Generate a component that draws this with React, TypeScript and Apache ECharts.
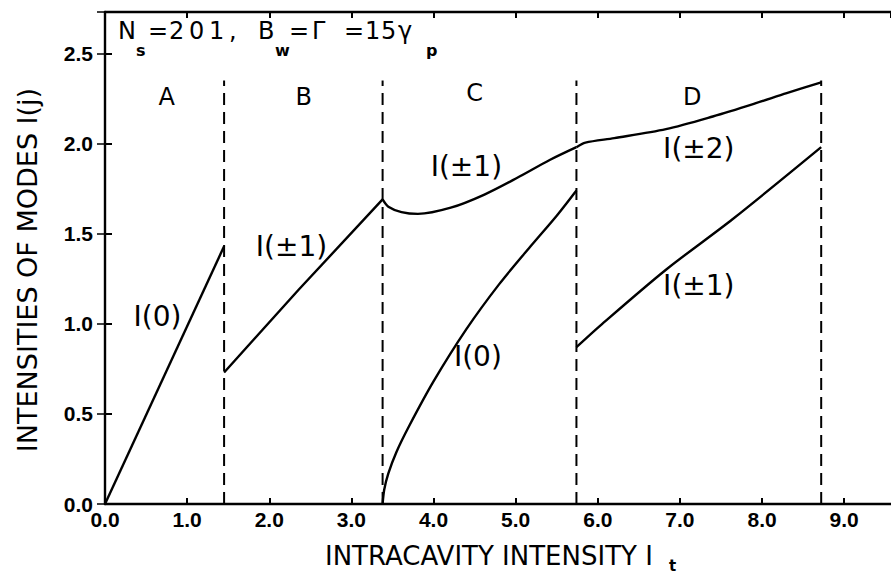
import React, { useEffect, useRef } from "react";
import * as echarts from "echarts";

// ---- data ----
const xTicks = [0, 1, 2, 3, 4, 5, 6, 7, 8, 9];
const yTicks = [0, 0.5, 1.0, 1.5, 2.0, 2.5];
const xMax = 9.57;
const yMax = 2.73;

const boundaries = [1.45, 3.38, 5.74, 8.72];
const dashTop = 2.35;

const regionNames = ["A", "B", "C", "D"];
const regionNameX = [0.75, 2.42, 4.5, 7.15];
const regionNameY = [2.26, 2.26, 2.28, 2.26];

// region A, I(0)
const aX = [0, 1.45];
const aY = [0, 1.43];
// region B, I(±1)
const bX = [1.45, 2.36, 3.38];
const bY = [0.73, 1.19, 1.69];
// region C, I(±1)
const cUpX = [3.38, 3.45, 3.61, 3.81, 4.21, 4.62, 5.02, 5.42, 5.74];
const cUpY = [1.69, 1.65, 1.62, 1.61, 1.644, 1.717, 1.81, 1.91, 1.98];
// region C, I(0)
const cLoX = [3.38, 3.4, 3.45, 3.55, 3.7, 4.0, 4.4, 4.8, 5.2, 5.5, 5.74];
const cLoY = [0, 0.08, 0.17, 0.29, 0.43, 0.68, 0.97, 1.22, 1.44, 1.6, 1.74];
// region D, I(±2)
const dUpX = [5.74, 5.85, 6.2, 6.83, 7.4, 7.9, 8.3, 8.72];
const dUpY = [1.98, 2.005, 2.03, 2.08, 2.15, 2.22, 2.28, 2.34];
// region D, I(±1)
const dLoX = [5.74, 6.03, 6.83, 7.64, 8.72];
const dLoY = [0.87, 0.99, 1.3, 1.58, 1.98];

const curveLabels = ["I(0)", "I(±1)", "I(±1)", "I(0)", "I(±2)", "I(±1)"];
const curveLabelX = [0.64, 2.27, 4.4, 4.54, 7.23, 7.23];
const curveLabelY = [1.04, 1.43, 1.87, 0.82, 1.97, 1.21];

const zip = (xs: number[], ys: number[]) => xs.map((x, i) => [x, ys[i]]);

// annotation characters: [text, x, subscript]
const annot: [string, number, boolean][] = [
  ["N", 118, false],
  ["s", 136, true],
  ["=", 148, false],
  ["2", 169, false],
  ["0", 189, false],
  ["1", 209, false],
  [",", 229, false],
  ["B", 258, false],
  ["w", 275, true],
  ["=", 289, false],
  ["Γ", 312, false],
  ["=", 344, false],
  ["1", 365, false],
  ["5", 381, false],
  ["γ", 398, false],
  ["p", 426, true],
];

const FONT = "'DejaVu Sans', 'Liberation Sans', sans-serif";
const TICKFONT = "'Liberation Sans', Arial, sans-serif";

export default function App() {
  const ref = useRef<HTMLDivElement>(null);
  useEffect(() => {
    if (!ref.current) return;
    const chart = echarts.init(ref.current, undefined, { renderer: "svg" });
    const black = "#000";
    const lineSeries = (d: number[][], smooth: boolean) => ({
      type: "line",
      data: d,
      symbol: "none",
      smooth: smooth ? 0.3 : false,
      lineStyle: { color: black, width: 2.4 },
      z: 3,
    });
    const fmt = (v: number) => v.toFixed(1);
    const axisCommon = {
      type: "value",
      splitLine: { show: false },
      axisLine: { show: true, onZero: false, lineStyle: { color: black, width: 2.4 } },
      axisTick: { show: true, inside: true, length: 6, lineStyle: { color: black, width: 2 } },
    };
    const labelSeries = (names: string[], xs: number[], ys: number[], size: number) => ({
      type: "scatter",
      symbol: "circle",
      symbolSize: 1,
      itemStyle: { color: "#fff", opacity: 1 },
      data: names.map((n, i) => ({ name: n, value: [xs[i], ys[i]] })),
      label: {
        show: true,
        position: "inside",
        formatter: "{b}",
        fontFamily: FONT,
        fontSize: size,
        color: black,
        textBorderWidth: 0,
      },
      emphasis: { disabled: true },
      z: 4,
    });
    const option: any = {
      animation: false,
      backgroundColor: "#fff",
      grid: { left: 105, top: 12, width: 791, height: 492, containLabel: false },
      xAxis: [
        {
          ...axisCommon,
          min: 0,
          max: xMax,
          interval: 1,
          position: "bottom",
          axisLabel: {
            show: true,
            margin: 5,
            showMaxLabel: false,
            formatter: (v: number) => (xTicks.includes(v) ? fmt(v) : ""),
            fontFamily: TICKFONT,
            fontWeight: "bold",
            fontSize: 21,
            color: black,
          },
        },
        {
          ...axisCommon,
          min: 0,
          max: xMax,
          interval: 1,
          position: "top",
          axisLabel: { show: false },
        },
      ],
      yAxis: [
        {
          ...axisCommon,
          min: 0,
          max: yMax,
          interval: 0.5,
          position: "left",
          axisTick: { show: true, inside: true, length: 7, lineStyle: { color: black, width: 2 } },
          axisLabel: {
            show: true,
            margin: 12,
            showMaxLabel: false,
            formatter: (v: number) => (yTicks.includes(v) ? fmt(v) : ""),
            fontFamily: TICKFONT,
            fontWeight: "bold",
            fontSize: 21,
            color: black,
          },
        },
        {
          ...axisCommon,
          min: 0,
          max: yMax,
          interval: 0.5,
          position: "right",
          axisLine: { show: false },
          axisTick: { show: true, inside: true, length: 8, lineStyle: { color: black, width: 1.5 } },
          axisLabel: { show: false },
        },
      ],
      series: [
        lineSeries(zip(aX, aY), false),
        lineSeries(zip(bX, bY), false),
        lineSeries(zip(cUpX, cUpY), true),
        lineSeries(zip(cLoX, cLoY), true),
        lineSeries(zip(dUpX, dUpY), true),
        lineSeries(zip(dLoX, dLoY), true),
        ...boundaries.map((b) => ({
          type: "line",
          data: [
            [b, 0],
            [b, dashTop],
          ],
          symbol: "none",
          lineStyle: { color: black, width: 2, type: [12, 7] },
          z: 2,
        })),
        labelSeries(regionNames, regionNameX, regionNameY, 24),
        labelSeries(curveLabels, curveLabelX, curveLabelY, 28),
      ],
      graphic: [
        ...annot.map(([t, x, sub]) => ({
          type: "text",
          x,
          y: sub ? 50 : 31,
          style: {
            text: t,
            font: sub ? `bold 16px ${FONT}` : `24px ${FONT}`,
            fill: black,
            textAlign: "left",
            verticalAlign: "middle",
          },
          z: 10,
        })),
        {
          type: "text",
          x: 325,
          y: 556,
          style: {
            text: "INTRACAVITY INTENSITY I",
            font: `26px ${FONT}`,
            fill: black,
            textAlign: "left",
            verticalAlign: "middle",
          },
        },
        {
          type: "text",
          x: 669,
          y: 566,
          style: {
            text: "t",
            font: `bold 15px ${FONT}`,
            fill: black,
            textAlign: "left",
            verticalAlign: "middle",
          },
        },
        {
          type: "text",
          x: 27,
          y: 270,
          rotation: Math.PI / 2,
          style: {
            text: "INTENSITIES OF MODES I(j)",
            font: `27px ${FONT}`,
            fill: black,
            textAlign: "center",
            verticalAlign: "middle",
          },
        },
      ],
    };
    chart.setOption(option);
    return () => chart.dispose();
  }, []);
  return (
    <div
      ref={ref}
      style={{ position: "fixed", left: 0, top: 0, width: 891, height: 578, background: "#fff" }}
    />
  );
}
